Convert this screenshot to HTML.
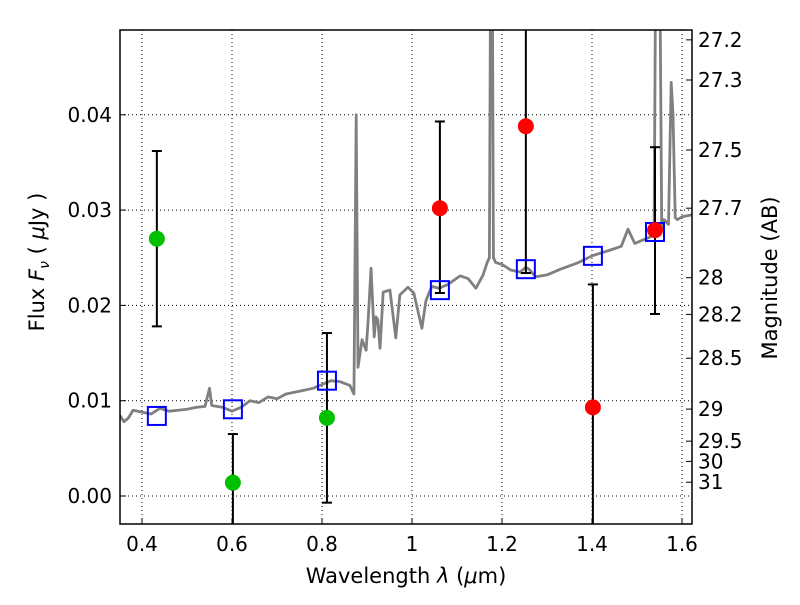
<!DOCTYPE html>
<html><head><meta charset="utf-8"><style>
body{margin:0;background:#fff;}
svg{font-family:"DejaVu Sans","Liberation Sans",sans-serif;}
</style></head><body>
<svg id="c" width="800" height="600" xmlns="http://www.w3.org/2000/svg"></svg>
<script>
const specL=[0.35,0.36,0.37,0.38,0.40,0.42,0.44,0.46,0.48,0.50,0.52,0.54,0.55,0.555,0.58,0.60,0.62,0.64,0.66,0.68,0.70,0.72,0.74,0.76,0.78,0.80,0.82,0.84,0.862,0.871,0.876,0.88,0.889,0.898,0.902,0.909,0.916,0.920,0.924,0.929,0.936,0.951,0.964,0.973,0.991,1.004,1.022,1.031,1.044,1.06,1.08,1.107,1.125,1.142,1.158,1.167,1.172,1.175,1.178,1.181,1.186,1.2,1.22,1.24,1.253,1.26,1.275,1.3,1.33,1.37,1.40,1.44,1.465,1.48,1.495,1.51,1.53,1.538,1.542,1.55,1.555,1.56,1.57,1.576,1.58,1.585,1.59,1.6,1.622];
const specF=[0.0085,0.0078,0.0082,0.0090,0.0088,0.0086,0.0092,0.0089,0.0090,0.0091,0.0093,0.0094,0.0113,0.0095,0.0093,0.0089,0.0093,0.0100,0.0098,0.0104,0.0102,0.0107,0.0109,0.0111,0.0113,0.0117,0.0121,0.0120,0.0116,0.0107,0.0400,0.0135,0.0164,0.0153,0.0180,0.0239,0.0167,0.0188,0.0185,0.0155,0.0214,0.0216,0.0166,0.0211,0.0219,0.0213,0.0176,0.0205,0.0220,0.0218,0.0222,0.0231,0.0228,0.0218,0.0232,0.0245,0.0250,0.0600,0.0600,0.0250,0.0245,0.0243,0.0237,0.0235,0.0240,0.0238,0.0230,0.0232,0.0238,0.0245,0.0252,0.0258,0.0262,0.0280,0.0265,0.0268,0.0272,0.0275,0.0600,0.0600,0.0280,0.0290,0.0285,0.0434,0.0400,0.0292,0.0290,0.0293,0.0295];
const ptL=[0.433,0.602,0.811,1.062,1.253,1.402,1.540];
const ptF=[0.0270,0.0014,0.0082,0.0302,0.0388,0.0093,0.0279];
const ptHi=[0.0362,0.0065,0.0171,0.0393,0.0600,0.0222,0.0366];
const ptLo=[0.0178,-0.0100,-0.0007,0.0213,0.0234,-0.0100,0.0191];
const ptColor=['green','green','green','red','red','red','red'];
const sqF=[0.0084,0.0091,0.0121,0.0216,0.0238,0.0252,0.0277];
const xTicks=[0.4,0.6,0.8,1.0,1.2,1.4,1.6];
const xTickLabels=['0.4','0.6','0.8','1','1.2','1.4','1.6'];
const yTicks=[0,0.01,0.02,0.03,0.04];
const yTickLabels=['0.00','0.01','0.02','0.03','0.04'];
const magTicks=[27.2,27.3,27.5,27.7,28,28.2,28.5,29,29.5,30,31];

const L=120,R=692,T=30,B=524;
const X=l=>142+(l-0.4)*450;
const Y=f=>496-f*9530;
const svg=document.getElementById('c');
const NS='http://www.w3.org/2000/svg';
function mk(tag,attrs,parent){const e=document.createElementNS(NS,tag);for(const k in attrs)e.setAttribute(k,attrs[k]);(parent||svg).appendChild(e);return e;}
const defs=mk('defs',{});
const cp=mk('clipPath',{id:'clip'},defs);mk('rect',{x:L,y:T,width:R-L,height:B-T},cp);

xTicks.forEach((t,i)=>{
 const g=mk('line',{x1:X(t),x2:X(t),y1:T,y2:B,stroke:'#000','stroke-width':1,'stroke-dasharray':'1,3'});
 
 const tk=mk('line',{x1:X(t),x2:X(t),y1:B,y2:B-6,stroke:'#000'});
 
 const tx=mk('text',{x:X(t),y:B+27,'font-size':20,'text-anchor':'middle'});tx.textContent=xTickLabels[i];
 
});
yTicks.forEach((t,i)=>{
 const g=mk('line',{x1:L,x2:R,y1:Y(t),y2:Y(t),stroke:'#000','stroke-width':1,'stroke-dasharray':'1,3'});
 
 const tk=mk('line',{x1:L,x2:L+6,y1:Y(t),y2:Y(t),stroke:'#000'});
 
 const tx=mk('text',{x:L-8,y:Y(t)+7,'font-size':20,'text-anchor':'end'});tx.textContent=yTickLabels[i];
 
});
magTicks.forEach(m=>{
 const f=Math.pow(10,(23.9-m)/2.5);const y=Y(f);
 const tk=mk('line',{x1:R,x2:R-6,y1:y,y2:y,stroke:'#000'});
 
 const tx=mk('text',{x:R+6,y:y+7,'font-size':20});tx.textContent=String(m);
 
});

const gp=mk('g',{'clip-path':'url(#clip)'});

const sp=mk('polyline',{points:specL.map((l,i)=>X(l)+','+Y(specF[i])).join(' '),fill:'none',stroke:'#808080','stroke-width':2.8,'stroke-linejoin':'round'},gp);

ptL.forEach((l,i)=>{
 const x=X(l);
 const e=mk('line',{x1:x,x2:x,y1:Y(ptHi[i]),y2:Y(ptLo[i]),stroke:'#000','stroke-width':2},gp);
 
 [ptHi[i],ptLo[i]].forEach(v=>{const c=mk('line',{x1:x-5,x2:x+5,y1:Y(v),y2:Y(v),stroke:'#000','stroke-width':2},gp);
  });
});
ptL.forEach((l,i)=>{
 const s=mk('rect',{x:X(l)-9,y:Y(sqF[i])-9,width:18,height:18,fill:'none',stroke:'#0000ff','stroke-width':2},gp);
 
});
ptL.forEach((l,i)=>{
 const c=mk('circle',{cx:X(l),cy:Y(ptF[i]),r:8,fill:ptColor[i]==='green'?'#00c000':'#ff0000'},gp);
 
});
const fr=mk('rect',{x:L,y:T,width:R-L,height:B-T,fill:'none',stroke:'#000','stroke-width':1.5});

</script>
<svg width="800" height="600" style="position:absolute;left:0;top:0;font-family:'DejaVu Sans','Liberation Sans',sans-serif">
<text x="406" y="583" font-size="21" text-anchor="middle">Wavelength  <tspan font-style="italic">λ</tspan> (<tspan font-style="italic">μ</tspan>m)</text>
<text transform="translate(44,262) rotate(-90)" font-size="21" text-anchor="middle">Flux  <tspan font-style="italic">F</tspan><tspan font-style="italic" font-size="14" dy="5">ν</tspan><tspan dy="-5">  ( </tspan><tspan font-style="italic">μ</tspan>Jy )</text>
<text transform="translate(777,278) rotate(-90)" font-size="21" text-anchor="middle">Magnitude (AB)</text>
</svg>
</body></html>
